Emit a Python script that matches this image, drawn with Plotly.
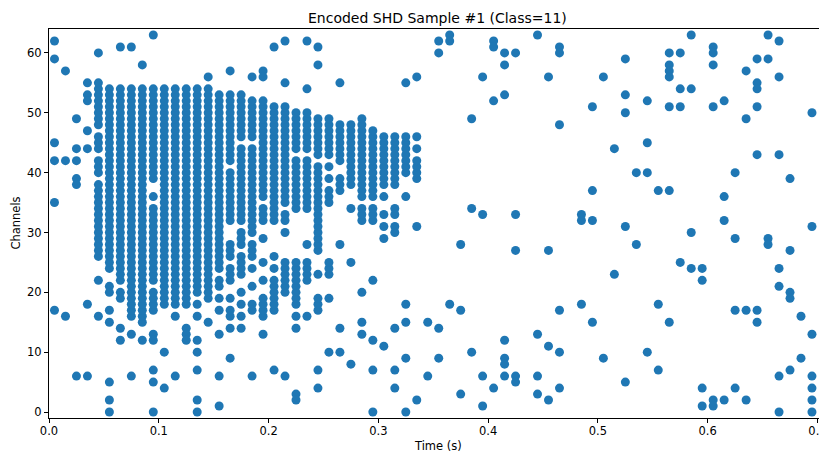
import plotly.graph_objects as go

# Spike raster of one encoded SHD sample: 70 time bins of 10 ms, 64 channels.
bin_width = 0.01
spike_bins = list(range(70))
# channels that fire in each bin; "hi-lo" denotes an inclusive run of channels
spike_channels = [
    "62 59 45 42 35 17",
    "57 42 16",
    "49 44 42 39 38 6",
    "55 53 52 47 44 18 6",
    "60 55-48 46-44 42-40 38-26 22 16",
    "54-24 21 20 17 15 5 2 0",
    "61 54-22 20-19 14 12",
    "61 54-16 13 6",
    "58 54-15 12",
    "63 54-39 36 34-22 20-17 13 12 7 5 0",
    "54-18 10 4",
    "54-18 16 6",
    "54-18 14 13 12",
    "54-20 18 16 12 10 7 2 0",
    "56 54-19 15",
    "53-24 22 21 19 17 13 6 1",
    "57 53-42 40-32 28-26 24-22 19 17 16 14 9",
    "53-46 44-32 30-28 26-23 20 18 16 14",
    "56 52-46 44-30 28-26 24 21 18 17 6",
    "57 56 52-36 34-32 29 25 22 19-16 13",
    "61 51-32 26 24 22-17 7",
    "62 55 51-35 33-32 30 25-20 6",
    "50-44 42-34 25-18 16 14 3 2",
    "62 54 50-44 42-34 28 25-22 16",
    "61 58 49-43 41-27 23 19-17 7 4",
    "49-43 41 39 37-35 25-23 19 10",
    "55 48-42 39-37 28 14 10",
    "48-38 34 25 8",
    "49-36 34-32 20 15 13",
    "47-36 34-32 22 12 7 0",
    "46-38 36 33 31 29 11",
    "46-38 34-33 31-30 14 7 4",
    "55 46-40 36 18 15 9 0",
    "56 46 44 42-39 31 2",
    "15 6",
    "62 60 14 9",
    "63 62 18",
    "28 17 3",
    "49 34 10",
    "56 33 6 1",
    "62 61 52 4",
    "60 58 53 12 9 8 6",
    "60 33 27 6 5",
    "",
    "63 13 6 3",
    "56 27 11 2",
    "61 60 48 17 10 4",
    "",
    "33 32 18",
    "51 37 32 15",
    "56 9",
    "44 23",
    "59 53 50 31 5",
    "40 28",
    "52 45 40 10",
    "37 18 7",
    "60 58 57 56 51 37 15",
    "60 54 51 25",
    "63 54 30 24",
    "24 22 4 1",
    "61 60 58 51 2 1",
    "52 36 32 2",
    "40 29 17 4",
    "57 49 17 2",
    "59 55 54 51 43 17 15",
    "63 59 29 28",
    "62 56 43 24 21 6 0",
    "39 27 20 19 7",
    "16 9",
    "50 31 13 6 4 2 0",
]
x_ticks = [0.0, 0.1, 0.2, 0.3, 0.4, 0.5, 0.6, 0.7]
y_ticks = [0, 10, 20, 30, 40, 50, 60]
x_max = 0.7014


def expand(spec):
    chans = []
    for tok in spec.split():
        if "-" in tok:
            hi, lo = (int(v) for v in tok.split("-"))
            chans.extend(range(lo, hi + 1))
        else:
            chans.append(int(tok))
    return chans


times, channels = [], []
for b, spec in zip(spike_bins, spike_channels):
    for c in expand(spec):
        times.append((b + 0.5) * bin_width)
        channels.append(c)

font = "DejaVu Sans"
fig = go.Figure(
    go.Scatter(
        x=times,
        y=channels,
        mode="markers",
        marker=dict(size=9, color="#1f77b4", line=dict(width=0)),
        hoverinfo="skip",
    )
)

axis_common = dict(
    showline=True,
    linecolor="black",
    linewidth=1,
    ticks="outside",
    ticklen=4,
    tickwidth=1,
    tickcolor="black",
    showgrid=False,
    zeroline=False,
    automargin=False,
    tickfont=dict(family=font, size=11.5, color="black"),
)

fig.update_layout(
    width=819,
    height=452,
    margin=dict(l=49, r=0, t=29, b=34),
    paper_bgcolor="white",
    plot_bgcolor="white",
    showlegend=False,
    # top frame line comes from the mirrored x axis; the right side runs off the page
    xaxis=dict(range=[0, x_max], tickvals=x_ticks, tickformat=".1f",
               ticklabelstandoff=-2, ticklabeloverflow="allow", mirror=True,
               **axis_common),
    yaxis=dict(range=[-1, 64], tickvals=y_ticks, mirror=False, **axis_common),
    annotations=[
        dict(text="Encoded SHD Sample #1 (Class=11)", xref="paper", yref="paper",
             x=0.505, y=1.027, xanchor="center", yanchor="middle", showarrow=False,
             font=dict(family=font, size=14, color="black")),
        dict(text="Time (s)", xref="paper", yref="paper", x=0.505, y=-0.073,
             xanchor="center", yanchor="middle", showarrow=False,
             font=dict(family=font, size=11.5, color="black")),
        dict(text="Channels", xref="paper", yref="paper", x=-0.044, y=0.5,
             xanchor="center", yanchor="middle", textangle=-90, showarrow=False,
             font=dict(family=font, size=11.5, color="black")),
    ],
)

fig.write_html("out.html")
